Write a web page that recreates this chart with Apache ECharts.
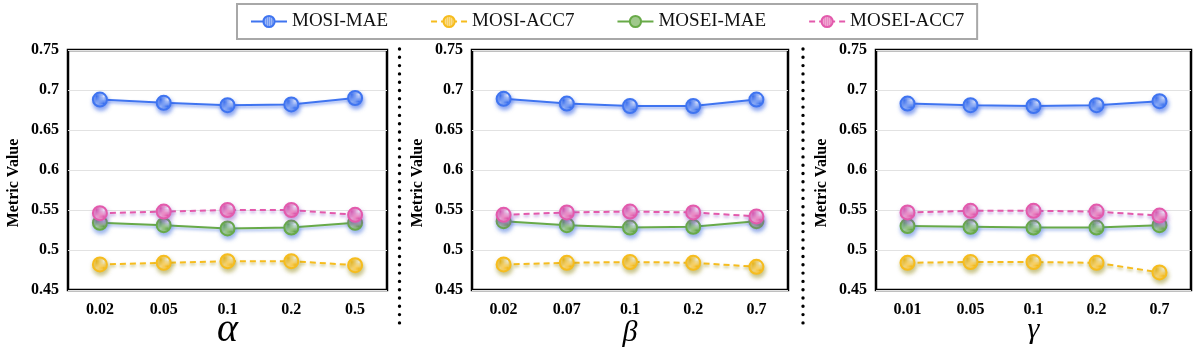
<!DOCTYPE html>
<html>
<head>
<meta charset="utf-8">
<script src="https://cdn.jsdelivr.net/npm/echarts@6/dist/echarts.min.js"></script>
<style>
  html, body { margin: 0; padding: 0; background: #fff; }
  #chart { width: 1200px; height: 354px; }
</style>
</head>
<body>
<div id="chart"></div>
<script>
const seriesNames = ["MOSI-MAE", "MOSI-ACC7", "MOSEI-MAE", "MOSEI-ACC7"];

const alphaLabels = ["0.02", "0.05", "0.1", "0.2", "0.5"];
const betaLabels = ["0.02", "0.07", "0.1", "0.2", "0.7"];
const gammaLabels = ["0.01", "0.05", "0.1", "0.2", "0.7"];

const alphaMosiMae = [0.688, 0.684, 0.681, 0.682, 0.690];
const alphaMosiAcc7 = [0.482, 0.484, 0.486, 0.486, 0.481];
const alphaMoseiMae = [0.534, 0.531, 0.527, 0.528, 0.534];
const alphaMoseiAcc7 = [0.546, 0.548, 0.550, 0.550, 0.544];

const betaMosiMae = [0.689, 0.683, 0.680, 0.680, 0.688];
const betaMosiAcc7 = [0.482, 0.484, 0.485, 0.484, 0.479];
const betaMoseiMae = [0.536, 0.531, 0.528, 0.529, 0.536];
const betaMoseiAcc7 = [0.544, 0.547, 0.548, 0.547, 0.542];

const gammaMosiMae = [0.683, 0.681, 0.680, 0.681, 0.686];
const gammaMosiAcc7 = [0.484, 0.485, 0.485, 0.484, 0.472];
const gammaMoseiMae = [0.530, 0.529, 0.528, 0.528, 0.531];
const gammaMoseiAcc7 = [0.547, 0.549, 0.549, 0.548, 0.543];

const yTicks = { min: 0.45, max: 0.75, interval: 0.05 };

const colors = ["#3f74f0", "#f6bc1e", "#68aa48", "#e35aac"];
const tints = ["#9fbaf7", "#fbdd8e", "#b3d4a3", "#f1acd5"];
const shadows = ["rgba(40,90,230,0.55)", "rgba(150,140,20,0.5)", "rgba(60,110,220,0.5)", "rgba(140,80,200,0.5)"];
const dashed = [false, true, false, true];

// small checkered fill like the original markers
function pattern(c, t) {
  const cv = document.createElement("canvas");
  cv.width = 2;
  cv.height = 2;
  const ctx = cv.getContext("2d");
  ctx.fillStyle = "#ffffff";
  ctx.fillRect(0, 0, 2, 2);
  ctx.fillStyle = c;
  ctx.fillRect(0, 0, 1, 1);
  ctx.fillRect(1, 1, 1, 1);
  ctx.fillStyle = t;
  ctx.fillRect(1, 0, 1, 1);
  return { image: cv, repeat: "repeat" };
}

const panels = [
  { labels: alphaLabels, name: "α", nameSize: 40, nameGap: 20, data: [alphaMosiMae, alphaMosiAcc7, alphaMoseiMae, alphaMoseiAcc7], left: 68, right: 813 },
  { labels: betaLabels, name: "β", nameSize: 30, nameGap: 28, data: [betaMosiMae, betaMosiAcc7, betaMoseiMae, betaMoseiAcc7], left: 472, right: 412 },
  { labels: gammaLabels, name: "γ", nameSize: 30, nameGap: 25, data: [gammaMosiMae, gammaMosiAcc7, gammaMoseiMae, gammaMoseiAcc7], left: 876, right: 9 },
];

const serif = "Liberation Serif";

const grid = panels.map((p) => ({
  left: p.left,
  right: p.right,
  top: 50,
  bottom: 64,
  outerBoundsMode: "none",
  containLabel: false,
  show: true,
  borderColor: "#000",
  borderWidth: 2.5,
  backgroundColor: "transparent",
}));

const xAxis = panels.map((p, i) => ({
  type: "category",
  gridIndex: i,
  data: p.labels,
  boundaryGap: true,
  axisLine: { show: false },
  axisTick: { show: false },
  axisLabel: { color: "#000", fontFamily: serif, fontWeight: "bold", fontSize: 16, margin: 12 },
  name: p.name,
  nameLocation: "middle",
  nameGap: p.nameGap,
  nameMoveOverlap: false,
  nameTextStyle: { fontFamily: serif, fontStyle: "italic", fontSize: p.nameSize, color: "#000" },
}));

const yAxis = panels.map((p, i) => ({
  type: "value",
  gridIndex: i,
  min: yTicks.min,
  max: yTicks.max,
  interval: yTicks.interval,
  axisLine: { show: false },
  axisTick: { show: false },
  splitLine: { lineStyle: { color: "#e2e2e2", width: 1 } },
  axisLabel: { color: "#000", fontFamily: serif, fontWeight: "bold", fontSize: 16, margin: 9 },
  name: "Metric Value",
  nameLocation: "middle",
  nameGap: 46,
  nameTextStyle: { fontFamily: serif, fontWeight: "bold", fontSize: 16, color: "#000", padding: [0, 26, 0, 0] },
}));

const series = [];
panels.forEach((p, i) => {
  p.data.forEach((vals, k) => {
    series.push({
      name: seriesNames[k],
      type: "line",
      xAxisIndex: i,
      yAxisIndex: i,
      data: vals,
      symbol: "circle",
      symbolSize: 14,
      showSymbol: true,
      lineStyle: {
        color: colors[k],
        width: 2,
        type: dashed[k] ? [6, 4] : "solid",
        shadowColor: shadows[k],
        shadowBlur: 3,
        shadowOffsetY: 2,
      },
      itemStyle: {
        color: pattern(colors[k], tints[k]),
        borderColor: colors[k],
        borderWidth: 2,
        shadowColor: shadows[k],
        shadowBlur: 4,
        shadowOffsetX: 1,
        shadowOffsetY: 3,
      },
      emphasis: { disabled: true },
      z: 2 + k,
    });
  });
});

// dotted separators between panels
const separators = [399.5, 803].map((x) => ({
  type: "line",
  shape: { x1: x, y1: 49, x2: x, y2: 328 },
  style: { stroke: "#000", lineWidth: 3.4, lineDash: [0, 8.3], lineCap: "round" },
  silent: true,
}));

const chart = echarts.init(document.getElementById("chart"));
chart.setOption({
  animation: false,
  backgroundColor: "#fff",
  legend: {
    data: seriesNames,
    left: 237,
    top: 4,
    padding: [8, 13],
    itemGap: 42,
    itemWidth: 36,
    itemHeight: 14,
    borderColor: "#a8a8a8",
    borderWidth: 2,
    textStyle: { fontFamily: serif, fontSize: 19, color: "#111" },
  },
  grid: grid,
  xAxis: xAxis,
  yAxis: yAxis,
  series: series,
  graphic: separators,
});
</script>
</body>
</html>
